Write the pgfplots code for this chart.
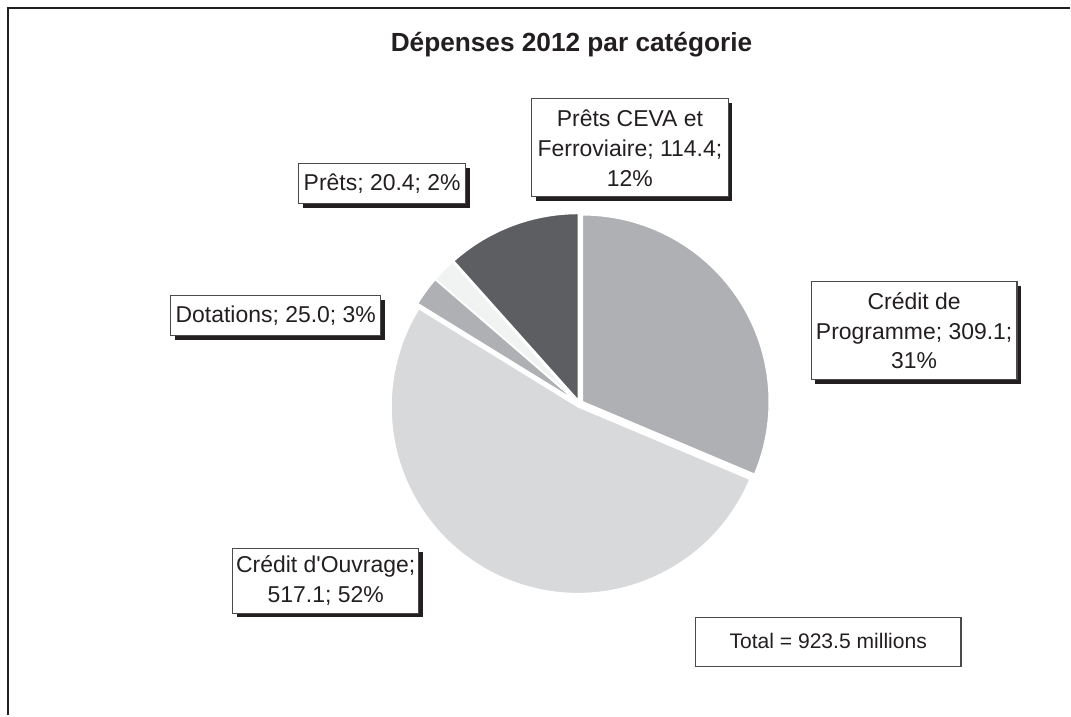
\documentclass[border=0pt]{standalone}
\usepackage{fontspec}
\setmainfont{Liberation Sans}
\usepackage{pgfplots}
\usepackage{pgfplotstable}
\pgfplotsset{compat=1.18}

\definecolor{cdp}{HTML}{AFB0B3}
\definecolor{ouvrage}{HTML}{D8D9DB}
\definecolor{dotations}{HTML}{AFB0B3}
\definecolor{prets}{HTML}{F1F2F2}
\definecolor{ceva}{HTML}{5D5E61}
\definecolor{ink}{HTML}{231F20}
\definecolor{boxline}{HTML}{4A4A4A}

% valeurs en millions, dans l'ordre des aiguilles d'une montre depuis midi
\pgfplotstableread{
value colour
309.1 cdp
517.1 ouvrage
25.0  dotations
20.4  prets
114.4 ceva
}\depenses

\def\radius{2.805cm}
\newcommand\lblfont{\fontsize{9.8}{12.8}\selectfont}
% boite avec ombre: x1 y1 x2 y2 en pixels (y vers le bas), texte
\newcommand\lbox[5]{%
  \fill[ink] (axis cs:{#1+4},{716-#2-4}) rectangle (axis cs:{#3+4},{716-#4-4});
  \filldraw[fill=white, draw=boxline, line width=0.5pt] (axis cs:#1,{716-#2}) rectangle (axis cs:#3,{716-#4});
  \node[align=center, font=\lblfont, text=ink, inner sep=0pt] at (axis cs:{(#1+#3)/2},{716-(#2+#4)/2}) {#5};}

\begin{document}
\begin{tikzpicture}
\pgfplotstablegetrowsof{\depenses}
\pgfmathtruncatemacro\last{\pgfplotsretval-1}
\def\total{0}
\pgfplotsforeachungrouped \i in {0,...,\last}{%
  \pgfplotstablegetelem{\i}{value}\of\depenses
  \pgfmathsetmacro\total{\total+\pgfplotsretval}%
}
\def\cum{0}
\pgfplotsforeachungrouped \i in {0,...,\last}{%
  \pgfplotstablegetelem{\i}{value}\of\depenses
  \pgfmathsetmacro\sa{90-360*(\cum/\total)}%
  \pgfmathsetmacro\cum{\cum+\pgfplotsretval}%
  \pgfmathsetmacro\ea{90-360*(\cum/\total)}%
  \pgfmathsetmacro\cx{580+3.5*cos((\sa+\ea)/2)}%
  \pgfmathsetmacro\cy{312+3.5*sin((\sa+\ea)/2)}%
  \pgfplotstablegetelem{\i}{colour}\of\depenses
  \expandafter\xdef\csname slice\i\endcsname{\noexpand\fill[fill=\pgfplotsretval, draw=white, line width=0.6pt] (axis cs:\cx,\cy) -- ++(\sa:\radius) arc[start angle=\sa, end angle=\ea, radius=\radius] -- cycle;}%
}
\begin{axis}[
    hide axis, scale only axis,
    width=16.065cm, height=10.74cm,
    xmin=0, xmax=1071, ymin=0, ymax=716,
    clip=false,
]
\path (axis cs:0,0) rectangle (axis cs:1071,716);
\draw[ink, line width=0.85pt] (axis cs:8,0) -- (axis cs:8,708) -- (axis cs:1071,708);
\node[font=\bfseries\fontsize{11.2}{13}\selectfont, text=ink] at (axis cs:572,671) {Dépenses 2012 par catégorie};

\pgfplotsforeachungrouped \i in {0,...,\last}{\csname slice\i\endcsname}

\lbox{532}{99}{729}{197}{Prêts CEVA et\\Ferroviaire; 114.4;\\12\%}
\lbox{299}{164}{466}{204}{Prêts; 20.4; 2\%}
\lbox{171}{296}{381}{336}{Dotations; 25.0; 3\%}
\lbox{812}{282}{1018}{380}{Crédit de\\Programme; 309.1;\\31\%}
\lbox{233}{549}{419}{614}{Crédit d\textquotesingle Ouvrage;\\517.1; 52\%}

\draw[boxline, line width=0.7pt, fill=white] (axis cs:696,98) rectangle (axis cs:962,49);
\node[font=\fontsize{9}{11}\selectfont, text=ink] at (axis cs:829,74) {Total = 923.5 millions};
\end{axis}
\end{tikzpicture}
\end{document}
